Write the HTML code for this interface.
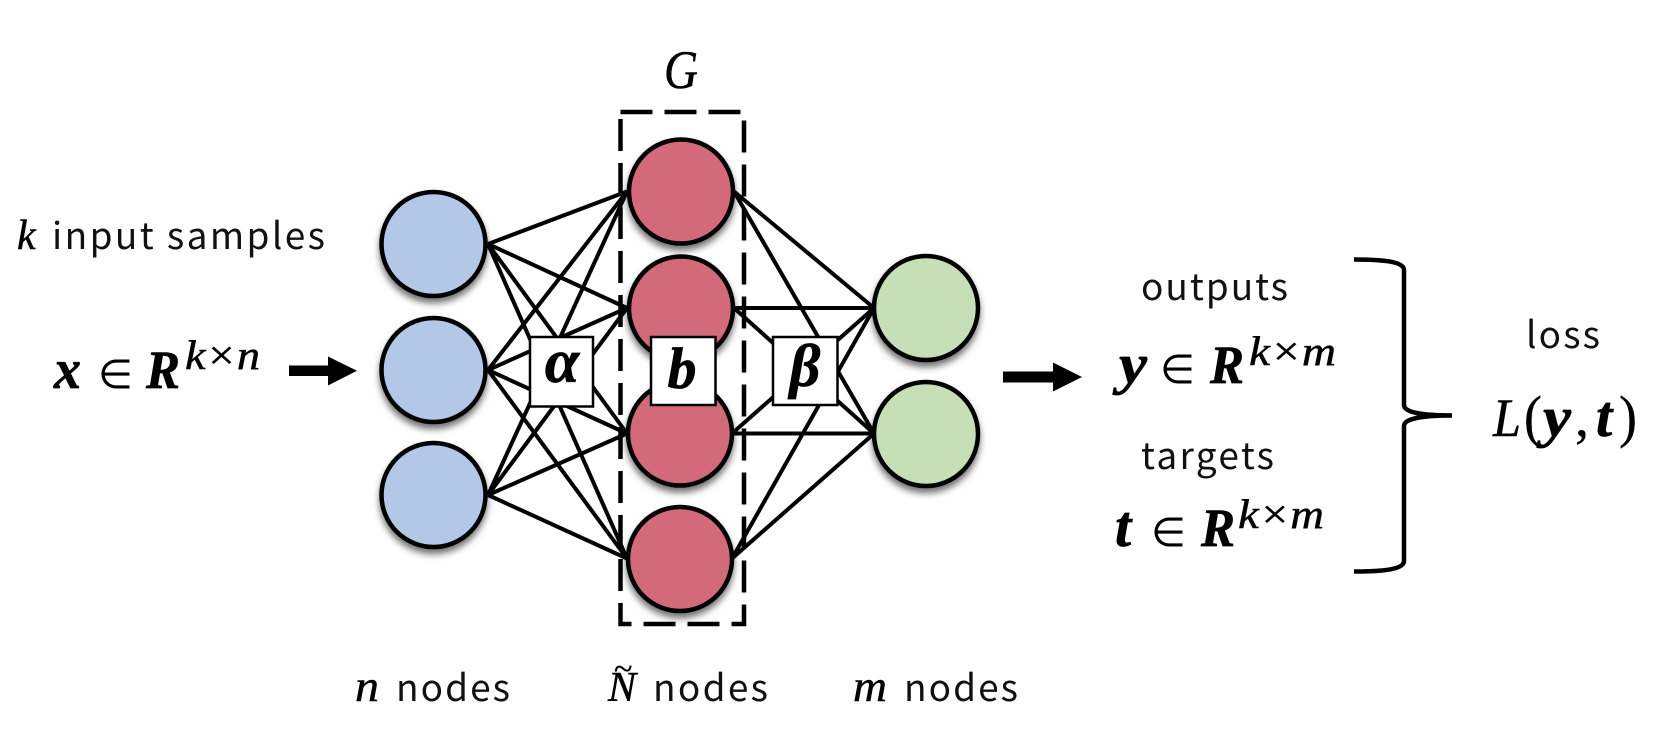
<!DOCTYPE html>
<html><head><meta charset="utf-8"><style>
html,body{margin:0;padding:0;background:#fff;width:1668px;height:756px;overflow:hidden}
svg{display:block}
.s{font-family:"Noto Sans CJK JP","Liberation Sans",sans-serif;font-size:37px;fill:#111;font-weight:400}
.m{font-family:"Liberation Serif",serif;font-style:italic;fill:#000;stroke:#000;stroke-width:.5}
.n{font-family:"Liberation Serif",serif;fill:#000;stroke:#000;stroke-width:.3}
.b{font-family:"Liberation Serif",serif;font-style:italic;font-weight:bold;fill:#000;stroke:#000;stroke-width:.7}
.e{font-family:"DejaVu Sans",sans-serif;fill:#000}
.c{stroke:#000;stroke-width:4.5;filter:url(#sh)}
</style></head><body>
<svg width="1668" height="756" viewBox="0 0 1668 756" xmlns="http://www.w3.org/2000/svg">
<defs><filter id="sh" x="-20%" y="-20%" width="140%" height="140%"><feDropShadow dx="0" dy="5" stdDeviation="3.5" flood-color="#000" flood-opacity=".55"/></filter></defs>
<rect width="1668" height="756" fill="#fff"/>
<g stroke="#000" stroke-width="4" fill="none">
<path d="M488 244L627 191.5M488 244L627 308M488 244L627 433.5M488 244L627 558.5"/>
<path d="M488 370L627 191.5M488 370L627 308M488 370L627 433.5M488 370L627 558.5"/>
<path d="M488 495L627 191.5M488 495L627 308M488 495L627 433.5M488 495L627 558.5"/>
<path d="M734 191.5L874 308M734 191.5L874 433.5M734 308H874M734 308L874 433.5"/>
<path d="M732 433.5L874 308M732 433.5H874M732 558.5L874 308M732 558.5L874 433.5"/>
</g>
<rect x="620.5" y="112" width="123.5" height="512" fill="none" stroke="#000" stroke-width="4.5" stroke-dasharray="32 12"/>
<g fill="#b3c7e6" class="c">
<circle cx="433.5" cy="244" r="52"/><circle cx="433.5" cy="370" r="52"/><circle cx="433.5" cy="495" r="52"/>
</g>
<g fill="#d26b7a" class="c">
<circle cx="681" cy="191.5" r="52"/><circle cx="681" cy="308.5" r="52"/><circle cx="680" cy="433.5" r="52"/><circle cx="680" cy="559" r="52"/>
</g>
<g fill="#c6dfb6" class="c">
<circle cx="926" cy="308" r="52"/><circle cx="926" cy="434" r="52"/>
</g>
<g fill="#fff" stroke="#000" stroke-width="2.5">
<rect x="530" y="337" width="63" height="69.5"/>
<rect x="651" y="337" width="64.5" height="68"/>
<rect x="773" y="337" width="64.5" height="68"/>
</g>
<text class="b" x="562" y="382" font-size="62" text-anchor="middle">α</text>
<text class="b" x="682" y="388" font-size="58" text-anchor="middle">b</text>
<text class="b" x="805" y="386" font-size="60" text-anchor="middle">β</text>

<path d="M289 365.5H328V356.5L357 370.8L328 385.5V376H289Z" fill="#000"/>
<path d="M1003 371.5H1053V362.5L1082 377L1053 391.5V382.5H1003Z" fill="#000"/>
<path d="M1354 259.5C1385 259.5 1404 262 1404 270V405C1404 412 1420 415.5 1452 415.5C1420 415.5 1404 419 1404 426V561C1404 569 1385 571.5 1354 571.5" fill="none" stroke="#000" stroke-width="4.5"/>

<text class="m" x="664" y="88" font-size="54" textLength="34" lengthAdjust="spacingAndGlyphs">G</text>

<text class="m" x="17" y="249" font-size="42">k</text>
<text class="s" x="52" y="249" textLength="273" lengthAdjust="spacing">input samples</text>

<text class="b" x="54" y="388" font-size="56" textLength="27" lengthAdjust="spacingAndGlyphs">x</text>
<text class="e" x="98" y="388" font-size="40">∈</text>
<text class="b" x="146" y="388" font-size="54" textLength="34" lengthAdjust="spacingAndGlyphs">R</text>
<text class="m" x="185" y="369" font-size="41" textLength="75" lengthAdjust="spacingAndGlyphs">k×n</text>

<text class="s" x="1141" y="300" textLength="147" lengthAdjust="spacing">outputs</text>
<text class="b" x="1119" y="383" font-size="56" textLength="28" lengthAdjust="spacingAndGlyphs">y</text>
<text class="e" x="1160" y="383" font-size="40">∈</text>
<text class="b" x="1210" y="383" font-size="54" textLength="34" lengthAdjust="spacingAndGlyphs">R</text>
<text class="m" x="1249" y="365" font-size="41" textLength="87" lengthAdjust="spacingAndGlyphs">k×m</text>

<text class="s" x="1141" y="469" textLength="133" lengthAdjust="spacing">targets</text>
<text class="b" x="1115" y="546" font-size="58">t</text>
<text class="e" x="1151" y="546" font-size="40">∈</text>
<text class="b" x="1201" y="546" font-size="54" textLength="34" lengthAdjust="spacingAndGlyphs">R</text>
<text class="m" x="1238" y="528" font-size="41" textLength="86" lengthAdjust="spacingAndGlyphs">k×m</text>

<text class="s" x="1526" y="348" textLength="74" lengthAdjust="spacing">loss</text>
<text class="m" x="1493" y="436" font-size="54" textLength="28" lengthAdjust="spacingAndGlyphs">L</text>
<text class="n" x="1524" y="436" font-size="58" textLength="18" lengthAdjust="spacingAndGlyphs">(</text>
<text class="b" x="1543" y="436" font-size="56" textLength="28" lengthAdjust="spacingAndGlyphs">y</text>
<text class="n" x="1575" y="436" font-size="56">,</text>
<text class="b" x="1596" y="436" font-size="58">t</text>
<text class="n" x="1619" y="436" font-size="58" textLength="18" lengthAdjust="spacingAndGlyphs">)</text>

<text class="m" x="355" y="701" font-size="44" textLength="24" lengthAdjust="spacingAndGlyphs">n</text>
<text class="s" x="396" y="701" textLength="114" lengthAdjust="spacing">nodes</text>
<text class="m" x="608" y="701" font-size="42" textLength="28" lengthAdjust="spacingAndGlyphs">N</text>
<text class="n" x="614" y="680" font-size="34">~</text>
<text class="s" x="653" y="701" textLength="115" lengthAdjust="spacing">nodes</text>
<text class="m" x="853" y="701" font-size="44" textLength="34" lengthAdjust="spacingAndGlyphs">m</text>
<text class="s" x="904" y="701" textLength="114" lengthAdjust="spacing">nodes</text>
</svg>
</body></html>
